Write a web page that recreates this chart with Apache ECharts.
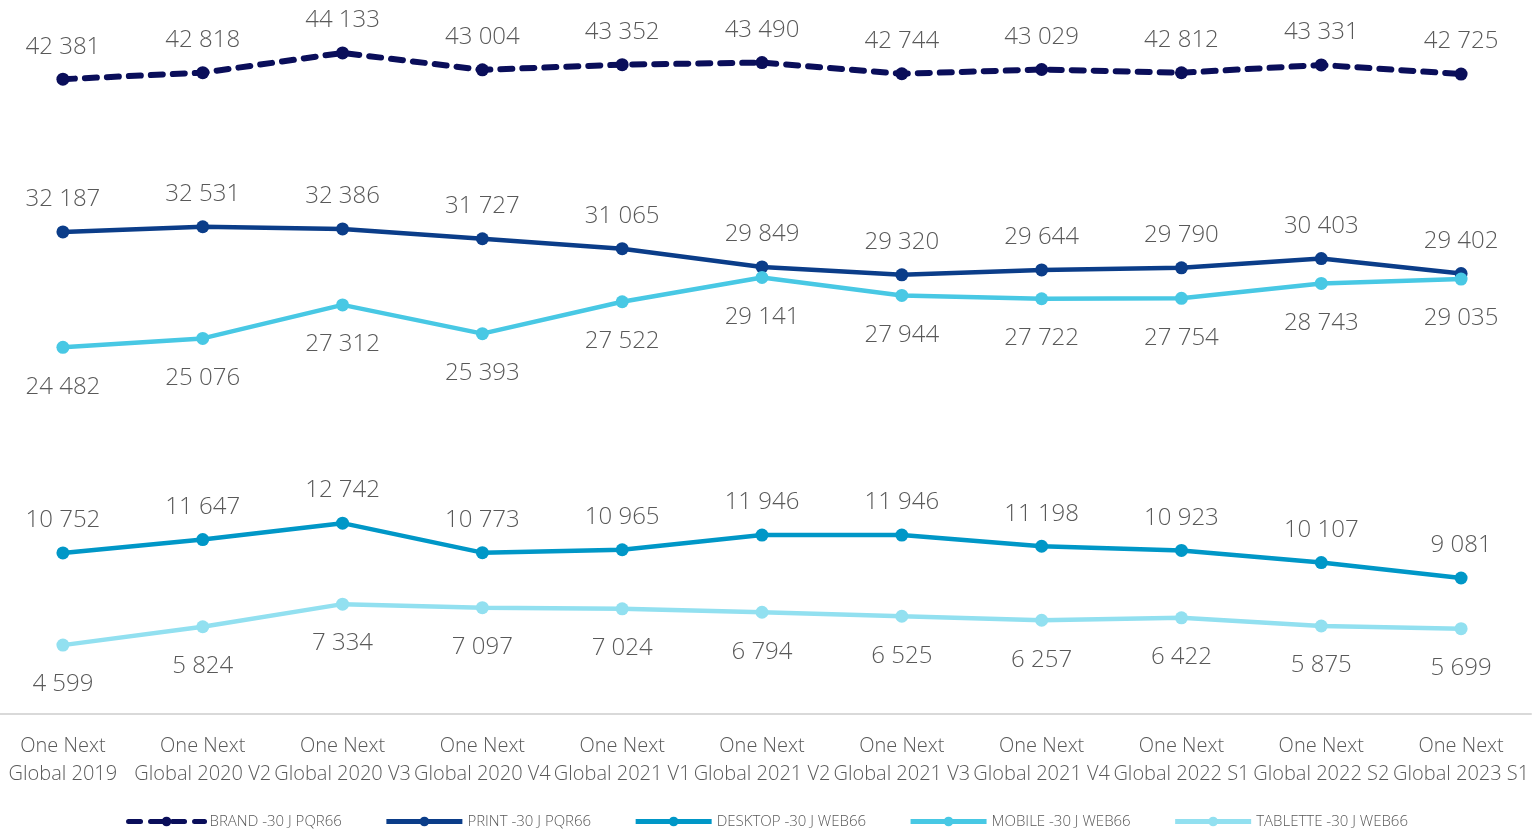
<!DOCTYPE html>
<html>
<head>
<meta charset="utf-8">
<script src="https://cdn.jsdelivr.net/npm/echarts@6/dist/echarts.min.js"></script>
<style>
  html, body { margin: 0; padding: 0; background: #fff; }
  #chart { width: 1534px; height: 832px; }
</style>
</head>
<body>
<div id="chart"></div>
<script>
// categories (x axis)
const categories = [
  "One Next\nGlobal 2019", "One Next\nGlobal 2020 V2", "One Next\nGlobal 2020 V3",
  "One Next\nGlobal 2020 V4", "One Next\nGlobal 2021 V1", "One Next\nGlobal 2021 V2",
  "One Next\nGlobal 2021 V3", "One Next\nGlobal 2021 V4", "One Next\nGlobal 2022 S1",
  "One Next\nGlobal 2022 S2", "One Next\nGlobal 2023 S1"
];

// series values
const brand    = [42381, 42818, 44133, 43004, 43352, 43490, 42744, 43029, 42812, 43331, 42725];
const print    = [32187, 32531, 32386, 31727, 31065, 29849, 29320, 29644, 29790, 30403, 29402];
const desktop  = [10752, 11647, 12742, 10773, 10965, 11946, 11946, 11198, 10923, 10107, 9081];
const mobile   = [24482, 25076, 27312, 25393, 27522, 29141, 27944, 27722, 27754, 28743, 29035];
const tablette = [4599, 5824, 7334, 7097, 7024, 6794, 6525, 6257, 6422, 5875, 5699];

const textColor = "#595959";
const fontFamily = "'Open Sans', 'Noto Sans', sans-serif";

// 42381 -> "42 381"
function fmt(v) {
    return String(v).replace(/\B(?=(\d{3})+(?!\d))/g, " ");
}

function makeSeries(name, data, color, labelPos, dashed) {
    return {
        name: name,
        type: "line",
        data: data,
        symbol: "circle",
        symbolSize: 13,
        lineStyle: dashed
            ? { color: color, width: 6, type: [12, 10], cap: "round" }
            : { color: color, width: 4.5 },
        itemStyle: { color: color },
        label: {
            show: true,
            position: labelPos,
            distance: labelPos === "top" ? 14 : 21,
            color: textColor,
            fontSize: 24,
            fontWeight: 300,
            fontFamily: fontFamily,
            formatter: p => fmt(p.value)
        },
        z: dashed ? 3 : 2
    };
}

const chart = echarts.init(document.getElementById("chart"));
chart.setOption({
    animation: false,
    grid: { left: -7, right: 3, top: 10, bottom: 118, outerBoundsMode: "none", containLabel: false },
    xAxis: {
        type: "category",
        data: categories,
        boundaryGap: true,
        axisLine: { lineStyle: { color: "#d9d9d9", width: 2 } },
        axisTick: { show: false },
        axisLabel: {
            color: textColor,
            fontSize: 20,
            fontWeight: 300,
            fontFamily: fontFamily,
            lineHeight: 28,
            margin: 18,
            interval: 0
        }
    },
    yAxis: {
        type: "value",
        min: 0,
        max: 47000,
        show: false,
        splitLine: { show: false }
    },
    legend: {
        bottom: -2,
        left: "center",
        itemWidth: 76,
        itemHeight: 12,
        itemGap: 42,
        lineStyle: { width: 5 },
        textStyle: { color: textColor, fontSize: 15, fontFamily: fontFamily, fontWeight: 300 }
    },
    series: [
        makeSeries("BRAND -30 J PQR66", brand, "#0a0e5a", "top", true),
        makeSeries("PRINT -30 J PQR66", print, "#0b3d89", "top", false),
        makeSeries("DESKTOP -30 J WEB66", desktop, "#0097c7", "top", false),
        makeSeries("MOBILE -30 J WEB66", mobile, "#48c8e4", "bottom", false),
        makeSeries("TABLETTE -30 J WEB66", tablette, "#92e0f0", "bottom", false)
    ]
});
</script>
</body>
</html>
